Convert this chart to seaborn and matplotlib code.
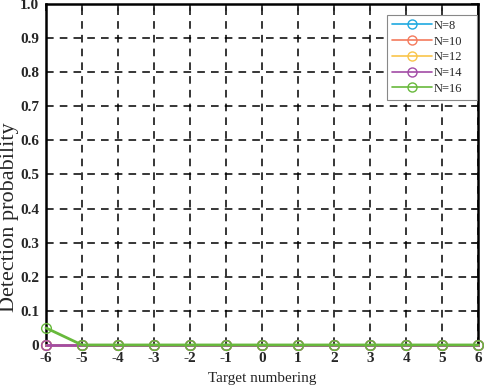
import numpy as np
import pandas as pd
import matplotlib
matplotlib.use("Agg")
import matplotlib.pyplot as plt
import seaborn as sns

targets = [-6, -5, -4, -3, -2, -1, 0, 1, 2, 3, 4, 5, 6]
n8 = [0, 0, 0, 0, 0, 0, 0, 0, 0, 0, 0, 0, 0]
n10 = [0, 0, 0, 0, 0, 0, 0, 0, 0, 0, 0, 0, 0]
n12 = [0, 0, 0, 0, 0, 0, 0, 0, 0, 0, 0, 0, 0]
n14 = [0, 0, 0, 0, 0, 0, 0, 0, 0, 0, 0, 0, 0]
n16 = [0.05, 0, 0, 0, 0, 0, 0, 0, 0, 0, 0, 0, 0]
series_names = ["N=8", "N=10", "N=12", "N=14", "N=16"]
colors = ["#1fa9e0", "#f47a5c", "#f9c54a", "#a24ca6", "#68b93c"]

frames = []
for name, vals in zip(series_names, [n8, n10, n12, n14, n16]):
    frames.append(pd.DataFrame({"target": targets, "prob": vals, "series": name}))
df = pd.concat(frames, ignore_index=True)

sns.set_style("white")
plt.rcParams["font.family"] = ["Liberation Serif", "DejaVu Serif"]

fig = plt.figure(figsize=(4.84, 3.85), dpi=100)
ax = fig.add_axes([0.095, 0.104, 0.893, 0.886])

sns.lineplot(data=df, x="target", y="prob", hue="series", hue_order=series_names,
             palette=colors, marker="o", markersize=7, markerfacecolor="none",
             markeredgewidth=1.0, linewidth=2.0, ax=ax, legend=True)
for line, c in zip(ax.get_lines(), colors):
    line.set_markeredgecolor(c)
    line.set_markerfacecolor("none")
    line.set_clip_on(False)
    line.set_zorder(3)

ax.set_xlim(-6, 6)
ax.set_ylim(0, 1.0)
ax.set_xticks(targets)
ax.set_xticklabels([str(t) for t in targets])
ax.set_yticks(np.round(np.arange(0, 1.01, 0.1), 1))
ax.set_yticklabels(["0"] + [f"{v:.1f}" for v in np.arange(0.1, 1.01, 0.1)])
for lab in ax.get_xticklabels() + ax.get_yticklabels():
    lab.set_fontweight("bold")
    lab.set_fontsize(11)
ax.tick_params(direction="in", length=5, width=1.2, top=True, right=True)
ax.tick_params(axis="x", pad=5)
ax.tick_params(axis="y", pad=5)
ax.grid(True, linestyle=(0, (5, 4)), color="black", linewidth=1.1)
ax.set_axisbelow(True)
for s in ax.spines.values():
    s.set_linewidth(1.8)
    s.set_color("black")

ax.set_xlabel("Target numbering", fontsize=11, labelpad=5)
ax.set_ylabel("Detection probability", fontsize=16)
ax.yaxis.set_label_coords(-0.062, 0.375)

handles, labels = ax.get_legend_handles_labels()
for h, c in zip(handles, colors):
    h.set_markerfacecolor("none")
    h.set_markeredgecolor(c)
    h.set_markersize(6.5)
    h.set_linewidth(1.2)
leg = ax.legend(handles, labels, loc="upper left",
                bbox_to_anchor=(0.789, 0.968, 0.209, 0.0), mode="expand",
                fontsize=9, frameon=True, fancybox=False, edgecolor="#888888",
                framealpha=1, handlelength=3.2, borderpad=0.4, labelspacing=0.3,
                handletextpad=0.1, borderaxespad=0)
leg.get_frame().set_linewidth(0.8)

fig.savefig("out.png", dpi=100)
